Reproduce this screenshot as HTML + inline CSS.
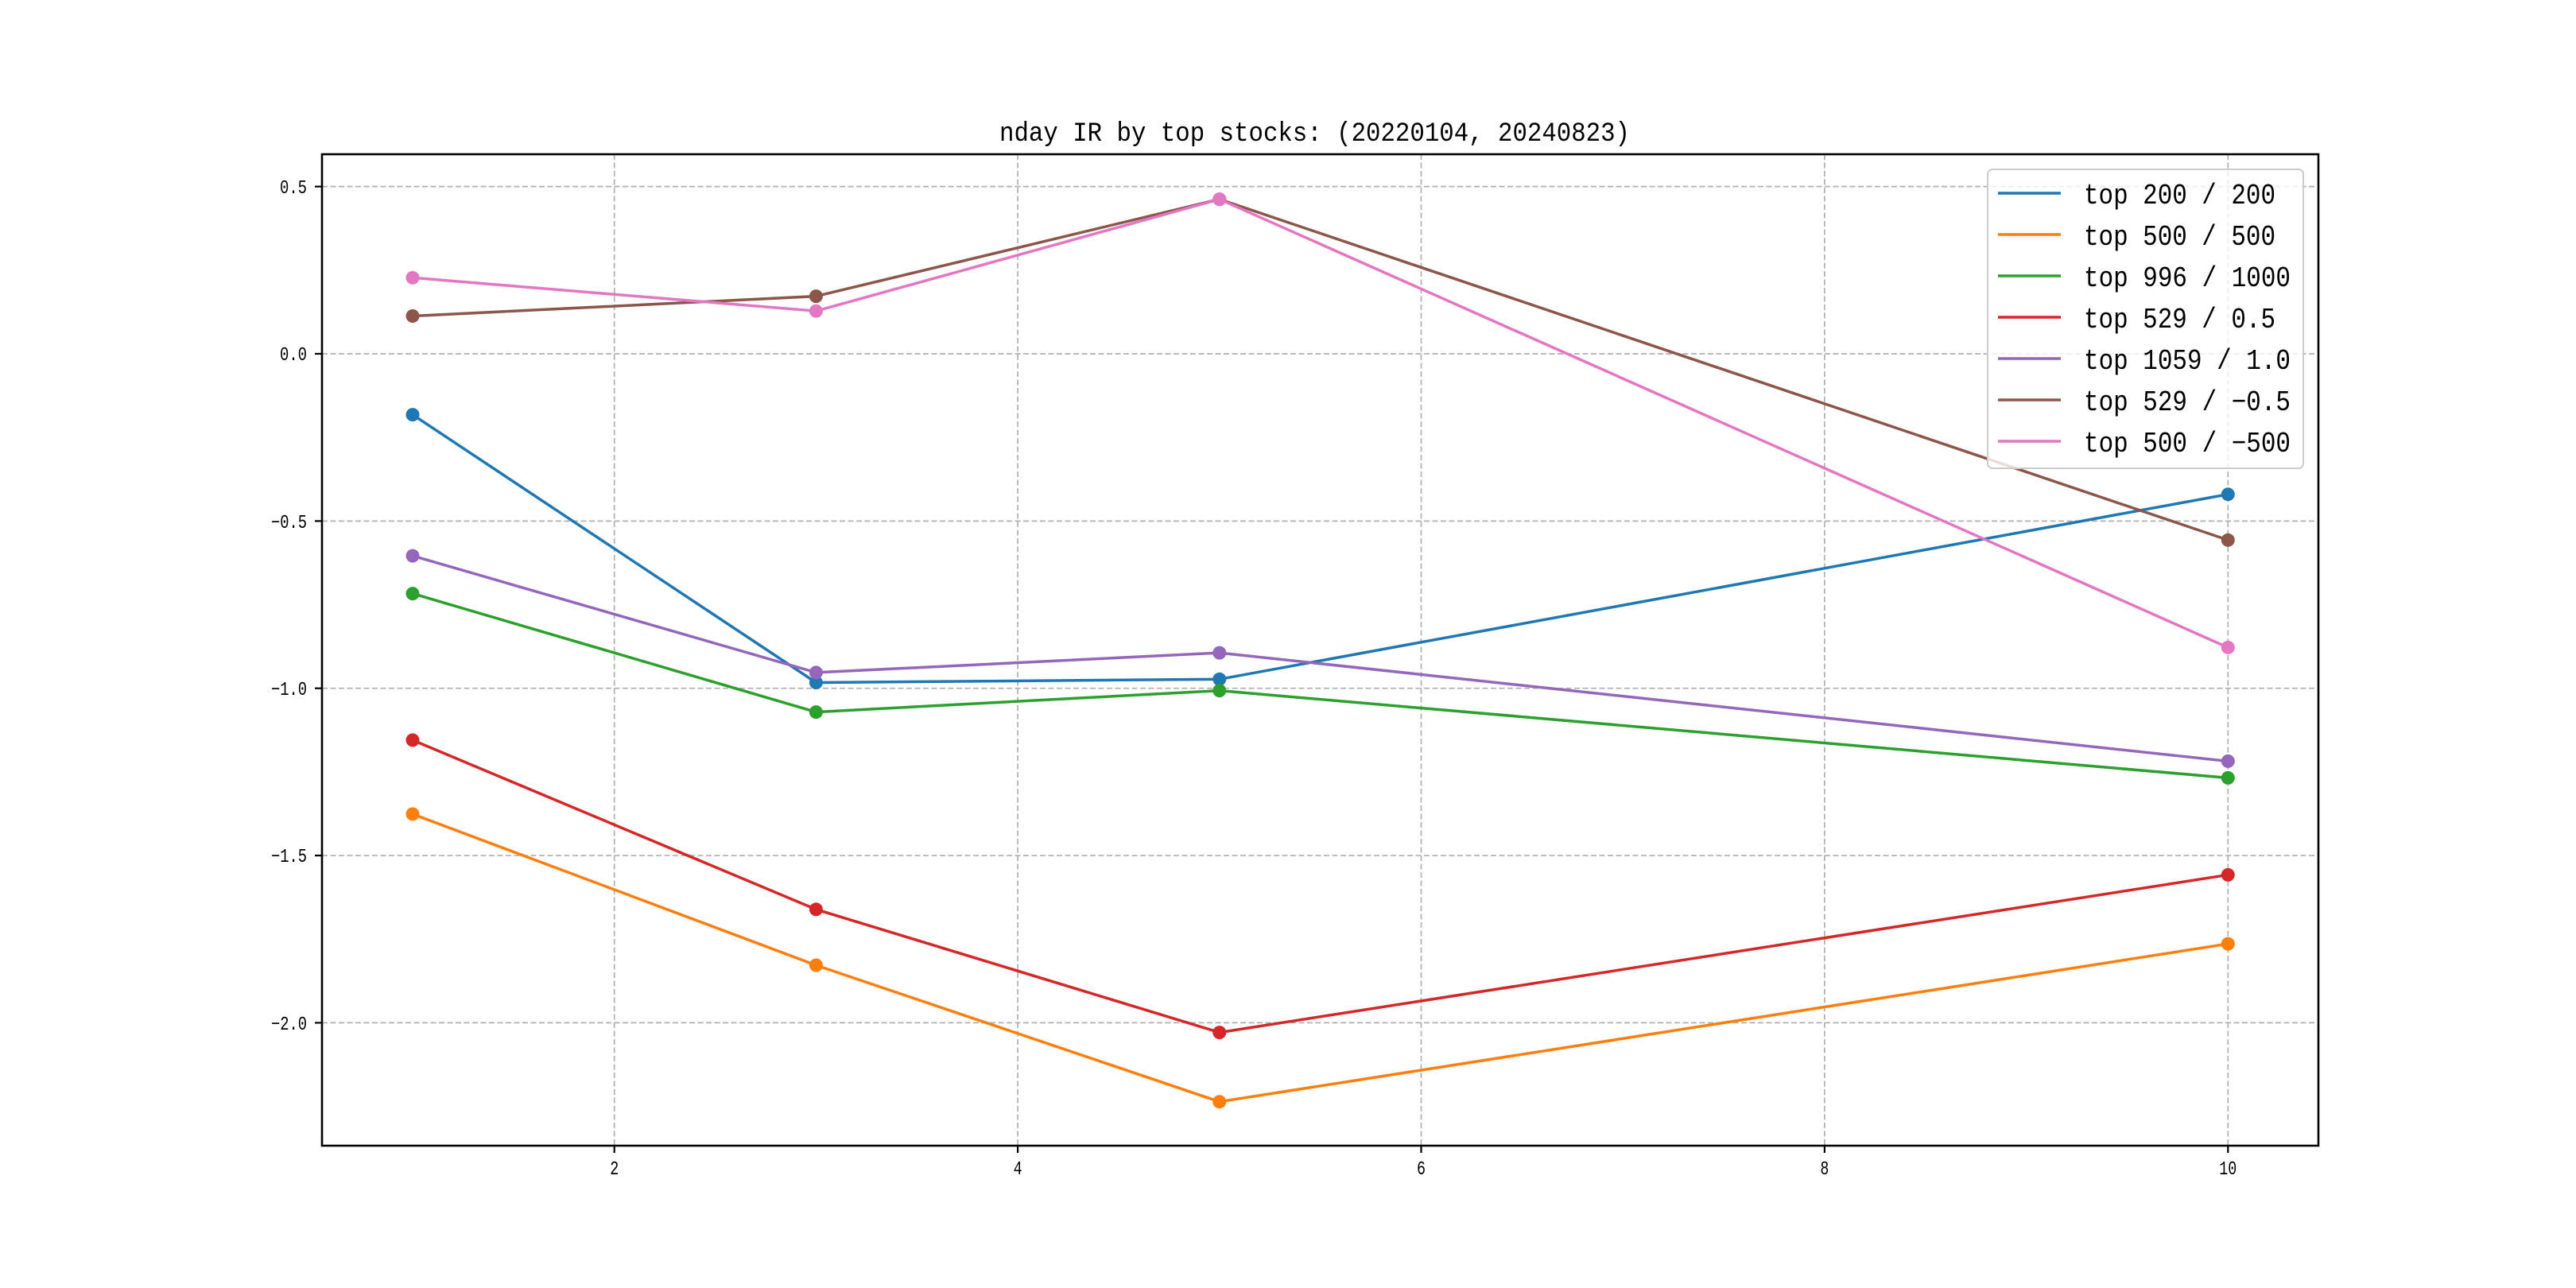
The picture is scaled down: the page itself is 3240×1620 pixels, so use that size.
<!DOCTYPE html>
<html><head><meta charset="utf-8"><style>html,body{margin:0;padding:0;background:#fff}svg{display:block}</style></head>
<body>
<svg width="3240" height="1620" viewBox="0 0 3240 1620" xmlns="http://www.w3.org/2000/svg" font-family="'Liberation Mono','WenQuanYi Zen Hei',monospace">
<rect width="3240" height="1620" fill="#fff"/>
<g stroke="#b0b0b0" stroke-width="1.7" stroke-dasharray="7,3.5" fill="none">
<line x1="772.7" y1="194" x2="772.7" y2="1441"/>
<line x1="1280.1" y1="194" x2="1280.1" y2="1441"/>
<line x1="1787.5" y1="194" x2="1787.5" y2="1441"/>
<line x1="2294.9" y1="194" x2="2294.9" y2="1441"/>
<line x1="2802.3" y1="194" x2="2802.3" y2="1441"/>
<line x1="405" y1="234.65" x2="2916" y2="234.65"/>
<line x1="405" y1="445" x2="2916" y2="445"/>
<line x1="405" y1="655.35" x2="2916" y2="655.35"/>
<line x1="405" y1="865.7" x2="2916" y2="865.7"/>
<line x1="405" y1="1076.05" x2="2916" y2="1076.05"/>
<line x1="405" y1="1286.4" x2="2916" y2="1286.4"/>
</g>
<g fill="none" stroke-width="3.5" stroke-linejoin="round">
<polyline stroke="#1f77b4" points="519,521.6 1026.4,858.5 1533.8,854.3 2802.3,621.7"/>
<polyline stroke="#ff7f0e" points="519,1023.9 1026.4,1214 1533.8,1385.7 2802.3,1187.1"/>
<polyline stroke="#2ca02c" points="519,746.6 1026.4,895.6 1533.8,868.6 2802.3,978.4"/>
<polyline stroke="#d62728" points="519,930.9 1026.4,1143.8 1533.8,1298.6 2802.3,1100.4"/>
<polyline stroke="#9467bd" points="519,699.1 1026.4,845.9 1533.8,821.1 2802.3,957.4"/>
<polyline stroke="#8c564b" points="519,397.5 1026.4,372.6 1533.8,250.6 2802.3,679.3"/>
<polyline stroke="#e377c2" points="519,349.3 1026.4,391.2 1533.8,250.6 2802.3,814.4"/>
</g>
<g>
<g fill="#1f77b4"><circle cx="519" cy="521.6" r="8.5"/><circle cx="1026.4" cy="858.5" r="8.5"/><circle cx="1533.8" cy="854.3" r="8.5"/><circle cx="2802.3" cy="621.7" r="8.5"/></g>
<g fill="#ff7f0e"><circle cx="519" cy="1023.9" r="8.5"/><circle cx="1026.4" cy="1214" r="8.5"/><circle cx="1533.8" cy="1385.7" r="8.5"/><circle cx="2802.3" cy="1187.1" r="8.5"/></g>
<g fill="#2ca02c"><circle cx="519" cy="746.6" r="8.5"/><circle cx="1026.4" cy="895.6" r="8.5"/><circle cx="1533.8" cy="868.6" r="8.5"/><circle cx="2802.3" cy="978.4" r="8.5"/></g>
<g fill="#d62728"><circle cx="519" cy="930.9" r="8.5"/><circle cx="1026.4" cy="1143.8" r="8.5"/><circle cx="1533.8" cy="1298.6" r="8.5"/><circle cx="2802.3" cy="1100.4" r="8.5"/></g>
<g fill="#9467bd"><circle cx="519" cy="699.1" r="8.5"/><circle cx="1026.4" cy="845.9" r="8.5"/><circle cx="1533.8" cy="821.1" r="8.5"/><circle cx="2802.3" cy="957.4" r="8.5"/></g>
<g fill="#8c564b"><circle cx="519" cy="397.5" r="8.5"/><circle cx="1026.4" cy="372.6" r="8.5"/><circle cx="1533.8" cy="250.6" r="8.5"/><circle cx="2802.3" cy="679.3" r="8.5"/></g>
<g fill="#e377c2"><circle cx="519" cy="349.3" r="8.5"/><circle cx="1026.4" cy="391.2" r="8.5"/><circle cx="1533.8" cy="250.6" r="8.5"/><circle cx="2802.3" cy="814.4" r="8.5"/></g>
</g>
<rect x="405" y="194" width="2511" height="1247" fill="none" stroke="#000" stroke-width="2.6"/>
<g stroke="#000" stroke-width="2.2">
<line x1="396" y1="234.65" x2="405" y2="234.65"/><line x1="396" y1="445" x2="405" y2="445"/><line x1="396" y1="655.35" x2="405" y2="655.35"/><line x1="396" y1="865.7" x2="405" y2="865.7"/><line x1="396" y1="1076.05" x2="405" y2="1076.05"/><line x1="396" y1="1286.4" x2="405" y2="1286.4"/>
<line x1="772.7" y1="1441" x2="772.7" y2="1450"/><line x1="1280.1" y1="1441" x2="1280.1" y2="1450"/><line x1="1787.5" y1="1441" x2="1787.5" y2="1450"/><line x1="2294.9" y1="1441" x2="2294.9" y2="1450"/><line x1="2802.3" y1="1441" x2="2802.3" y2="1450"/>
</g>
<g font-size="24" fill="#000" text-anchor="end">
<text x="386" y="243" textLength="34" lengthAdjust="spacingAndGlyphs">0.5</text>
<text x="386" y="453" textLength="34" lengthAdjust="spacingAndGlyphs">0.0</text>
<text x="386" y="664" textLength="45" lengthAdjust="spacingAndGlyphs">−0.5</text>
<text x="386" y="874" textLength="45" lengthAdjust="spacingAndGlyphs">−1.0</text>
<text x="386" y="1084" textLength="45" lengthAdjust="spacingAndGlyphs">−1.5</text>
<text x="386" y="1295" textLength="45" lengthAdjust="spacingAndGlyphs">−2.0</text>
</g>
<g font-size="24" fill="#000" text-anchor="middle">
<text x="772.7" y="1477" textLength="11" lengthAdjust="spacingAndGlyphs">2</text><text x="1280.1" y="1477" textLength="11" lengthAdjust="spacingAndGlyphs">4</text><text x="1787.5" y="1477" textLength="11" lengthAdjust="spacingAndGlyphs">6</text><text x="2294.9" y="1477" textLength="11" lengthAdjust="spacingAndGlyphs">8</text><text x="2802.3" y="1477" textLength="22" lengthAdjust="spacingAndGlyphs">10</text>
</g>
<text x="1257" y="177" font-size="34" fill="#000" textLength="793" lengthAdjust="spacingAndGlyphs">nday IR by top stocks: (20220104, 20240823)</text>
<rect x="2500" y="213" width="397" height="376" rx="6" fill="#fff" fill-opacity="0.8" stroke="#cccccc" stroke-width="2"/>
<g stroke-width="3.5">
<line x1="2513" y1="243" x2="2592" y2="243" stroke="#1f77b4"/>
<line x1="2513" y1="295" x2="2592" y2="295" stroke="#ff7f0e"/>
<line x1="2513" y1="347" x2="2592" y2="347" stroke="#2ca02c"/>
<line x1="2513" y1="399" x2="2592" y2="399" stroke="#d62728"/>
<line x1="2513" y1="451" x2="2592" y2="451" stroke="#9467bd"/>
<line x1="2513" y1="503" x2="2592" y2="503" stroke="#8c564b"/>
<line x1="2513" y1="555" x2="2592" y2="555" stroke="#e377c2"/>
</g>
<g font-size="36" fill="#000">
<text x="2621" y="256" textLength="241" lengthAdjust="spacingAndGlyphs">top 200 / 200</text>
<text x="2621" y="308" textLength="241" lengthAdjust="spacingAndGlyphs">top 500 / 500</text>
<text x="2621" y="360" textLength="260" lengthAdjust="spacingAndGlyphs">top 996 / 1000</text>
<text x="2621" y="412" textLength="241" lengthAdjust="spacingAndGlyphs">top 529 / 0.5</text>
<text x="2621" y="464" textLength="260" lengthAdjust="spacingAndGlyphs">top 1059 / 1.0</text>
<text x="2621" y="516" textLength="260" lengthAdjust="spacingAndGlyphs">top 529 / −0.5</text>
<text x="2621" y="568" textLength="260" lengthAdjust="spacingAndGlyphs">top 500 / −500</text>
</g>
</svg>
</body></html>
